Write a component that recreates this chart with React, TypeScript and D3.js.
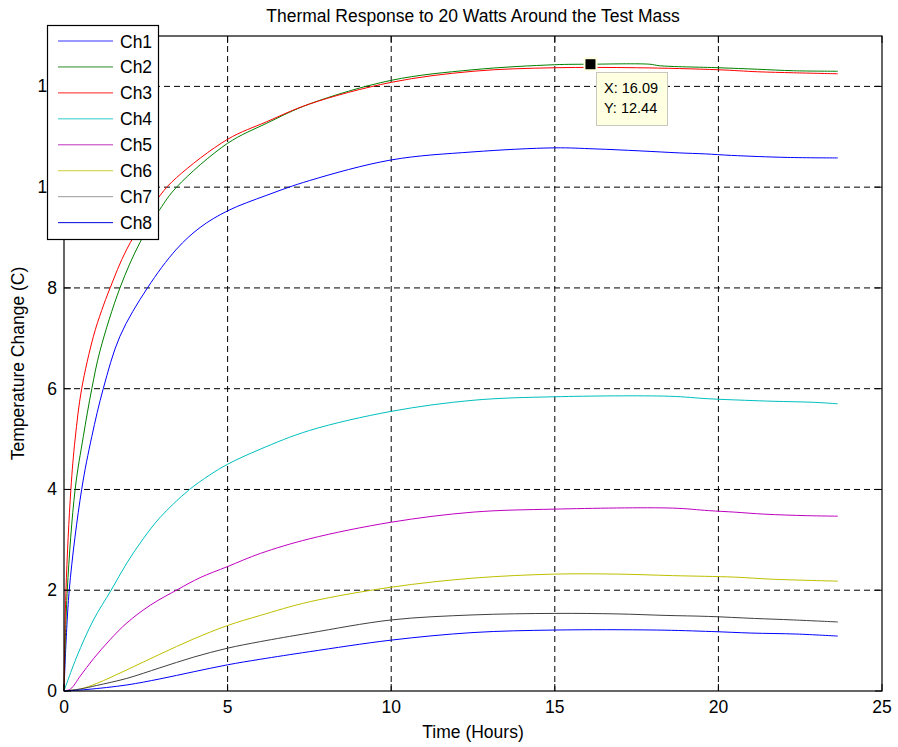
import React from "react";
import * as d3 from "d3";

type Pt = [number, number];

const channelNames = ["Ch1", "Ch2", "Ch3", "Ch4", "Ch5", "Ch6", "Ch7", "Ch8"];
const channelColors = ["#0000ff", "#008000", "#ff0000", "#00bfbf", "#bf00bf", "#bfbf00", "#404040", "#0000ff"];
const legendColors = ["#3333ff", "#2e8b2e", "#ff2020", "#33cccc", "#bf33bf", "#cccc33", "#999999", "#0000dd"];

const ch1: Pt[] = [[0, 0], [0.16, 2], [0.54, 4], [0.85, 5.05], [1.2, 6], [1.71, 7.04], [2.55, 8], [3.44, 8.77], [4.16, 9.2], [5, 9.53], [6.2, 9.84], [7.5, 10.13], [10, 10.54], [12.5, 10.7], [15, 10.78], [16.2, 10.76], [17.6, 10.72], [18.8, 10.68], [19.6, 10.66], [20.4, 10.63], [22.1, 10.59], [23.65, 10.58]];
const ch2: Pt[] = [[0, 0], [0.1, 2], [0.34, 4], [0.59, 5.05], [0.85, 6], [1.1, 6.75], [1.71, 8], [2.32, 8.9], [2.93, 9.56], [3.44, 10.0], [5, 10.87], [6.2, 11.27], [7.5, 11.65], [10, 12.12], [12.5, 12.33], [15, 12.43], [16.09, 12.44], [17.9, 12.44], [18.2, 12.41], [20, 12.37], [21.2, 12.34], [22.3, 12.31], [23.65, 12.3]];
const ch3: Pt[] = [[0, 0], [0.06, 2], [0.21, 4], [0.34, 5], [0.54, 6], [0.9, 7.04], [1.15, 7.55], [1.41, 8], [1.92, 8.77], [2.93, 9.83], [3.44, 10.19], [5, 10.95], [6.2, 11.3], [7.5, 11.65], [10, 12.08], [12.5, 12.3], [15, 12.37], [17.5, 12.37], [20, 12.33], [21.2, 12.29], [22.3, 12.27], [23.65, 12.25]];
const ch4: Pt[] = [[0, 0], [0.39, 0.68], [0.9, 1.41], [1.44, 2], [1.92, 2.54], [2.42, 3.02], [2.93, 3.44], [3.8, 3.98], [4.46, 4.29], [5, 4.5], [6, 4.8], [7.5, 5.17], [10, 5.55], [12.5, 5.77], [15, 5.84], [18.5, 5.85], [19.7, 5.8], [20.8, 5.77], [21.7, 5.75], [22.9, 5.73], [23.65, 5.7]];
const ch5: Pt[] = [[0, 0], [0.2, 0.04], [0.5, 0.3], [0.9, 0.64], [1.41, 1.02], [1.92, 1.35], [2.63, 1.7], [3.49, 2.02], [4.16, 2.25], [5, 2.47], [6, 2.73], [7.5, 3.02], [10, 3.35], [12.5, 3.55], [15, 3.61], [18.6, 3.63], [19.7, 3.58], [20.5, 3.55], [21.4, 3.51], [22.7, 3.48], [23.65, 3.47]];
const ch6: Pt[] = [[0, 0], [0.5, 0.04], [1.0, 0.15], [1.92, 0.42], [2.93, 0.73], [3.95, 1.03], [5, 1.3], [6, 1.5], [7.5, 1.77], [10, 2.06], [12.5, 2.24], [15, 2.32], [16.9, 2.32], [18.6, 2.29], [20.5, 2.26], [21.6, 2.22], [23.65, 2.18]];
const ch7: Pt[] = [[0, 0], [0.5, 0.04], [1.0, 0.11], [1.92, 0.25], [2.93, 0.46], [3.95, 0.67], [5, 0.85], [6, 0.98], [7.5, 1.15], [10, 1.41], [12.5, 1.51], [15, 1.54], [16.9, 1.53], [18.4, 1.5], [19.7, 1.48], [21.1, 1.44], [22.3, 1.41], [23.65, 1.37]];
const ch8: Pt[] = [[0, 0], [0.7, 0.03], [1.92, 0.12], [2.93, 0.24], [3.95, 0.38], [5, 0.52], [6, 0.63], [7.5, 0.78], [10, 1.01], [12.5, 1.16], [15, 1.21], [18.1, 1.21], [19.8, 1.18], [21, 1.15], [22.4, 1.13], [23.65, 1.09]];

const series = [ch1, ch2, ch3, ch4, ch5, ch6, ch7, ch8];

const xTicks = [0, 5, 10, 15, 20, 25];
const yTicks = [0, 2, 4, 6, 8, 10, 12];
const datatip = { x: 16.09, y: 12.44 };

const W = 898, H = 747;
const L = 64, R = 882, T = 36, B = 691;
const FONT = "Liberation Sans, Arial, sans-serif";

export default function App() {
  const x = d3.scaleLinear().domain([0, 25]).range([L, R]);
  const y = d3.scaleLinear().domain([0, 13]).range([B, T]);
  const line = d3.line<Pt>().x(d => x(d[0])).y(d => y(d[1])).curve(d3.curveCatmullRom.alpha(0.5));
  const fs = 17.5;
  const tipX = x(datatip.x), tipY = y(datatip.y);
  return (
    <svg width={W} height={H} style={{ position: "absolute", left: 0, top: 0, background: "#fff" }} fontFamily={FONT}>
      <rect x={0} y={0} width={W} height={H} fill="#fff" />
      <rect x={L} y={T} width={R - L} height={B - T} fill="#fff" />
      {xTicks.slice(1, -1).map(t => (
        <line key={"gx" + t} x1={x(t)} x2={x(t)} y1={T} y2={B} stroke="#000" strokeWidth={1} strokeDasharray="6,4" />
      ))}
      {yTicks.slice(1).map(t => (
        <line key={"gy" + t} x1={L} x2={R} y1={y(t)} y2={y(t)} stroke="#000" strokeWidth={1} strokeDasharray="6,4" />
      ))}
      {series.map((s, i) => (
        <path key={i} d={line(s) || ""} fill="none" stroke={channelColors[i]} strokeWidth={1} />
      ))}
      <rect x={L} y={T} width={R - L} height={B - T} fill="none" stroke="#000" strokeWidth={1.2} />
      {xTicks.map(t => (
        <g key={"tx" + t}>
          <line x1={x(t)} x2={x(t)} y1={B} y2={B - 7} stroke="#000" />
          <line x1={x(t)} x2={x(t)} y1={T} y2={T + 7} stroke="#000" />
          <text x={x(t)} y={B + 22} textAnchor="middle" fontSize={fs}>{t}</text>
        </g>
      ))}
      {yTicks.map(t => (
        <g key={"ty" + t}>
          <line x1={L} x2={L + 7} y1={y(t)} y2={y(t)} stroke="#000" />
          <line x1={R} x2={R - 7} y1={y(t)} y2={y(t)} stroke="#000" />
          <text x={L - 7} y={y(t) + 6} textAnchor="end" fontSize={fs}>{t}</text>
        </g>
      ))}
      <text x={(L + R) / 2} y={22} textAnchor="middle" fontSize={fs}>Thermal Response to 20 Watts Around the Test Mass</text>
      <text x={(L + R) / 2} y={738} textAnchor="middle" fontSize={fs}>Time (Hours)</text>
      <text transform={`translate(24, ${(T + B) / 2}) rotate(-90)`} textAnchor="middle" fontSize={fs}>Temperature Change (C)</text>
      <rect x={tipX - 6} y={tipY - 6} width={12} height={12} fill="#000" stroke="#ffffe1" strokeWidth={2} />
      <rect x={596.5} y={72.5} width={71} height={53} fill="#ffffe1" stroke="#c8c8c0" strokeWidth={1} />
      <text x={604} y={93} fontSize={14.5}>{`X: ${datatip.x.toFixed(2)}`}</text>
      <text x={604} y={113} fontSize={14.5}>{`Y: ${datatip.y.toFixed(2)}`}</text>
      <rect x={47.5} y={25.5} width={111} height={214} fill="#fff" stroke="#000" strokeWidth={1.2} />
      {channelNames.map((n, i) => {
        const cy = 41 + i * 25.95;
        return (
          <g key={n}>
            <line x1={58} x2={113} y1={cy} y2={cy} stroke={legendColors[i]} strokeWidth={1} />
            <text x={120} y={cy + 6.5} fontSize={fs}>{n}</text>
          </g>
        );
      })}
    </svg>
  );
}
